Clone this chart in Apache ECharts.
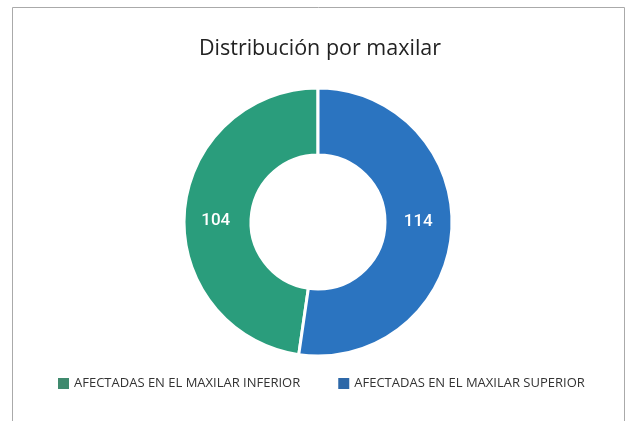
<!DOCTYPE html>
<html>
<head>
<meta charset="utf-8">
<script src="https://cdn.jsdelivr.net/npm/echarts@6/dist/echarts.min.js"></script>
<style>html,body{margin:0;padding:0;background:#fff;}#c{width:628px;height:421px;}</style>
</head>
<body>
<div id="c"></div>
<script>
const categories = ["AFECTADAS EN EL MAXILAR INFERIOR", "AFECTADAS EN EL MAXILAR SUPERIOR"];
const values = [104, 114];
const sliceColors = ["#2a9d7c", "#2b74c0"];
const legendColors = ["#3f8a6e", "#2d68a8"];
const labelOffsets = [[1, 6], [-3, -8]];

const chart = echarts.init(document.getElementById('c'), null, {renderer: 'canvas'});
chart.setOption({
  backgroundColor: '#fff',
  animation: false,
  title: {
    text: 'Distribución por maxilar',
    left: 315, top: 33, textAlign: 'center',
    textStyle: {fontFamily: 'Open Sans', fontSize: 21.5, fontWeight: 'normal', color: '#222'}
  },
  graphic: [{
    type: 'rect', shape: {x: 12.5, y: 7.5, width: 612, height: 430},
    style: {fill: 'none', stroke: '#aaa', lineWidth: 1}, silent: true
  }],
  legend: {
    top: 376, left: 56, padding: 0,
    itemWidth: 13, itemHeight: 13, itemGap: 36,
    icon: 'rect',
    textStyle: {fontFamily: 'Open Sans', fontSize: 13, color: '#333', padding: [0,0,0,-1]},
    data: categories.map((c, i) => ({name: c, itemStyle: {color: legendColors[i]}}))
  },
  series: [{
    type: 'pie',
    center: [318, 222],
    radius: [67, 134],
    startAngle: 90,
    clockwise: false,
    label: {
      show: true, position: 'inside', formatter: '{c}',
      color: '#fff', fontFamily: 'Roboto', fontWeight: 500, fontSize: 17
    },
    labelLine: {show: false},
    itemStyle: {borderColor: '#fff', borderWidth: 3},
    emphasis: {disabled: true},
    data: categories.map((c, i) => ({name: c, value: values[i], itemStyle: {color: sliceColors[i]}, label: {offset: labelOffsets[i]}}))
  }]
});
</script>
</body>
</html>
